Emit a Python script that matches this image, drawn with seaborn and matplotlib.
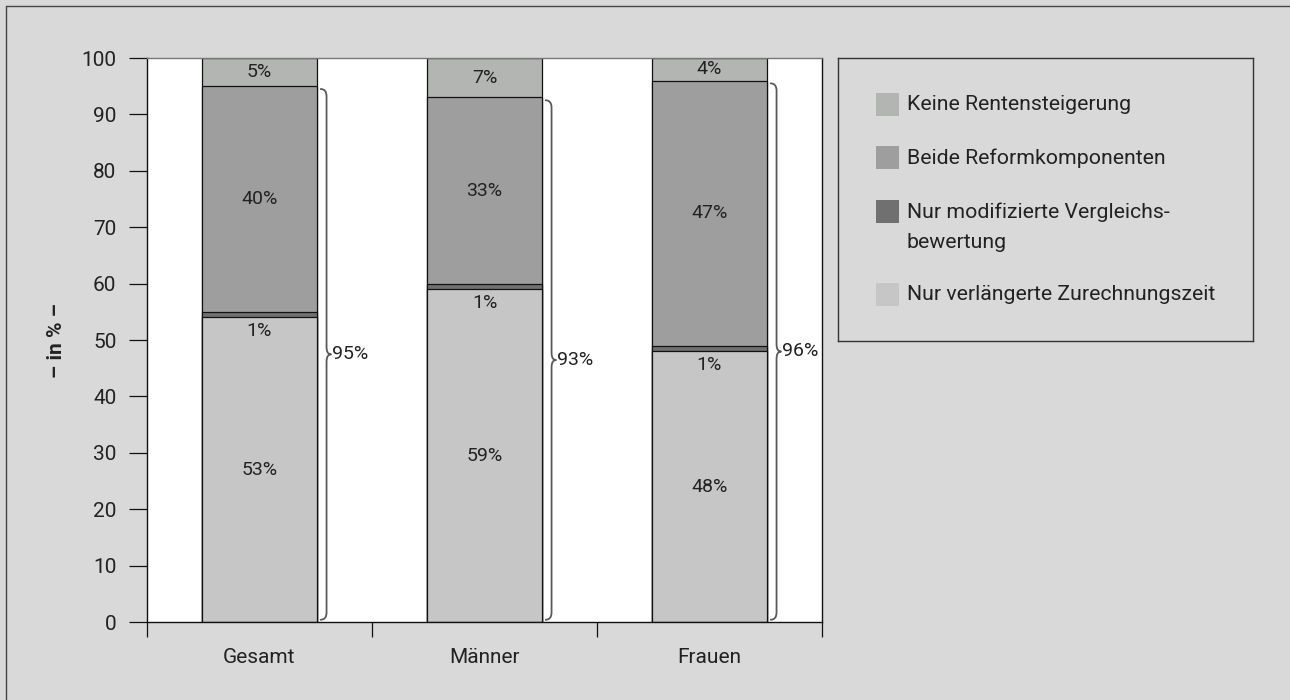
import matplotlib
matplotlib.use("Agg")
import matplotlib.pyplot as plt
import seaborn as sns
import pandas as pd
import numpy as np
from matplotlib.path import Path
from matplotlib.patches import PathPatch, Rectangle
from matplotlib.lines import Line2D

# ---------------- data ----------------
categories = ["Gesamt", "Männer", "Frauen"]
nur_zurechnung = [54, 59, 48]          # bottom segment (as drawn)
nur_vergleich = [1, 1, 1]              # thin dark segment
beide = [40, 33, 47]                   # middle segment
keine = [5, 7, 4]                      # top segment

lbl_zurechnung = ["53%", "59%", "48%"]
lbl_vergleich = ["1%", "1%", "1%"]
lbl_beide = ["40%", "33%", "47%"]
lbl_keine = ["5%", "7%", "4%"]

brace_totals = [95, 93, 96]
brace_labels = ["95%", "93%", "96%"]

series_names = ["Keine Rentensteigerung", "Beide Reformkomponenten",
                "Nur modifizierte Vergleichs-\nbewertung", "Nur verlängerte Zurechnungszeit"]
colors = {"keine": "#b3b5b3", "beide": "#9e9e9e", "vergleich": "#707070", "zurechnung": "#c6c6c6"}

yticks = list(range(0, 101, 10))
ylabel = "– in % –"

# ---------------- style ----------------
sns.set_theme(style="white")
plt.rcParams["font.family"] = ["Roboto", "DejaVu Sans"]
BG = "#d9d9d9"
TXT = "#222222"
FS = 14
FW = "normal"

fig = plt.figure(figsize=(12.9, 7.0), dpi=100, facecolor=BG)
ax = fig.add_axes([147 / 1290, 1 - 622 / 700, (822 - 147) / 1290, (622 - 58) / 700])
ax.set_facecolor("white")

df = pd.DataFrame({
    "cat": categories,
    "z": nur_zurechnung,
    "v": nur_vergleich,
    "b": beide,
    "k": keine,
})
df["c1"] = df["z"]
df["c2"] = df["c1"] + df["v"]
df["c3"] = df["c2"] + df["b"]
df["c4"] = df["c3"] + df["k"]

W = 0.51
for col, key in [("c4", "keine"), ("c3", "beide"), ("c2", "vergleich"), ("c1", "zurechnung")]:
    sns.barplot(data=df, x="cat", y=col, order=categories, color=colors[key],
                width=W, edgecolor="#111111", linewidth=0.9, errorbar=None,
                saturation=1, ax=ax)

ax.set_xlim(-0.5, 2.5)
ax.set_ylim(0, 100)

# value labels
for i in range(len(categories)):
    z, v, b, k = df.loc[i, ["z", "v", "b", "k"]]
    kw = dict(ha="center", va="center", fontsize=FS, color=TXT, fontweight=FW)
    ax.text(i, z / 2, lbl_zurechnung[i], **kw)
    ax.annotate(lbl_vergleich[i], (i, z), xytext=(0, -10), textcoords="offset points", **kw)
    ax.text(i, z + v + b / 2, lbl_beide[i], **kw)
    ax.text(i, z + v + b + k / 2, lbl_keine[i], **kw)

# braces
def brace(axis, xc, top, bottom=0.4):
    x0 = xc + 0.272
    x1 = xc + 0.298
    x2 = xc + 0.318
    r = 1.3
    mid = (top + bottom) / 2
    verts = [
        (x0, top), (x1, top), (x1, top - r),
        (x1, mid + r),
        (x1, mid), (x2, mid),
        (x1, mid), (x1, mid - r),
        (x1, bottom + r),
        (x1, bottom), (x0, bottom),
    ]
    codes = [Path.MOVETO, Path.CURVE3, Path.CURVE3,
             Path.LINETO,
             Path.CURVE3, Path.CURVE3,
             Path.CURVE3, Path.CURVE3,
             Path.LINETO,
             Path.CURVE3, Path.CURVE3]
    axis.add_patch(PathPatch(Path(verts, codes), fill=False, edgecolor="#5a5a5a",
                             linewidth=1.3, capstyle="round", joinstyle="round", clip_on=False))
    return x2, mid

for i in range(len(categories)):
    top = brace_totals[i] - 0.5
    xt, ym = brace(ax, i, top)
    ax.text(xt + 0.004, brace_totals[i] / 2, brace_labels[i], ha="left", va="center",
            fontsize=FS, color=TXT, fontweight=FW, clip_on=False)

# axes cosmetics
for s in ["left", "bottom", "right"]:
    ax.spines[s].set_color("#111111")
    ax.spines[s].set_linewidth(1.0)
ax.spines["top"].set_color("#777777")
ax.spines["top"].set_linewidth(1.0)

ax.set_yticks(yticks)
ax.set_yticklabels([str(t) for t in yticks], fontsize=FS + 1, color=TXT, fontweight=FW)
ax.tick_params(axis="y", direction="out", length=13, width=0.9, color="#111111", pad=9, left=True)
ax.set_xticks(range(len(categories)))
ax.set_xticklabels(categories, fontsize=FS + 1, color=TXT, fontweight=FW)
ax.tick_params(axis="x", which="major", length=0, pad=19)
ax.set_xticks([-0.5, 0.5, 1.5, 2.5], minor=True)
ax.tick_params(axis="x", which="minor", direction="out", length=11, width=0.9, color="#111111", bottom=True)
ax.set_xlabel("")
ax.set_ylabel(ylabel, fontsize=FS + 1, fontweight="bold", color=TXT, labelpad=11)

# legend box (manual layout)
lax = fig.add_axes([838 / 1290, 1 - 341 / 700, (1253 - 838) / 1290, (341 - 58) / 700])
lax.set_facecolor(BG)
lax.set_xticks([]); lax.set_yticks([])
for s in lax.spines.values():
    s.set_color("#333333"); s.set_linewidth(1.0)
Hpx, Wpx = 283.0, 415.0
sq = 23.0
entries = [(series_names[0], colors["keine"], 47),
           (series_names[1], colors["beide"], 100),
           (series_names[2], colors["vergleich"], 154),
           (series_names[3], colors["zurechnung"], 237)]
for name, colr, ytop in entries:
    yc = 1 - ytop / Hpx
    lax.add_patch(Rectangle((38 / Wpx, yc - sq / 2 / Hpx), sq / Wpx, sq / Hpx,
                            transform=lax.transAxes, facecolor=colr, edgecolor="none"))
    lines = name.split("\n")
    for j, ln in enumerate(lines):
        lax.text(69 / Wpx, yc - j * 31 / Hpx, ln, transform=lax.transAxes, ha="left",
                 va="center", fontsize=FS + 1.3, color=TXT, fontweight=FW)

# outer frame (left/top)
fig.add_artist(Line2D([6 / 1290, 6 / 1290], [0, 1 - 6 / 700], transform=fig.transFigure, color="#444444", lw=1.0))
fig.add_artist(Line2D([6 / 1290, 1], [1 - 6 / 700, 1 - 6 / 700], transform=fig.transFigure, color="#444444", lw=1.0))

fig.savefig("out.png", dpi=100, facecolor=BG)
